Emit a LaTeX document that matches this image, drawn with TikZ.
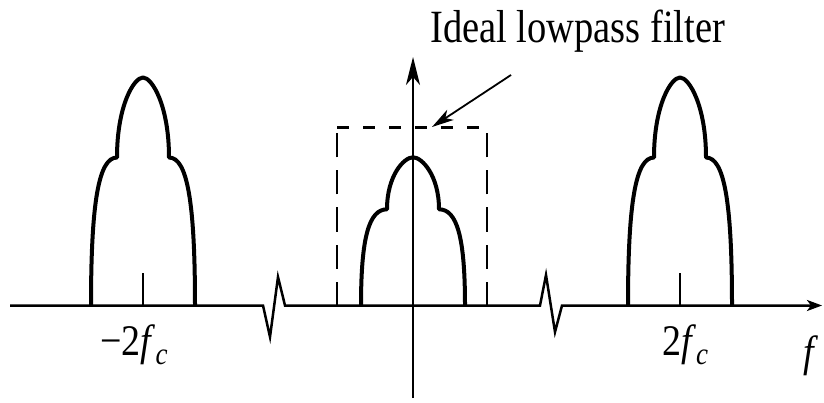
\documentclass[tikz,border=0pt]{standalone}
\usepackage{fontspec}
\setmainfont{Liberation Serif}
\usetikzlibrary{arrows.meta}
\newcommand\pulsepath{(-52,0) .. controls (-52,105) and (-44,148) .. (-26,148) .. controls (-26,200) and (-9,228) .. (0,228) .. controls (9,228) and (26,200) .. (26,148) .. controls (44,148) and (52,105) .. (52,0)}
\tikzset{
  pulse/.style={line width=4pt, line join=round},
  axisline/.style={line width=2.5pt, line join=miter},
  tickline/.style={line width=1.5pt},
  boxtop/.style={line width=3pt, dash pattern=on 12pt off 14pt},
  boxside/.style={line width=1.6pt, dash pattern=on 24pt off 13pt},
  lbl/.style={inner sep=0pt, anchor=base west},
}
\begin{document}
\begin{tikzpicture}[x=1pt,y=1pt]
\useasboundingbox (0,0) rectangle (824,402);
% axis coordinates
\coordinate (hstart) at (10,96.5);
\coordinate (z1a) at (263,96.5);
\coordinate (z1b) at (270,65);
\coordinate (z1c) at (278,125);
\coordinate (z1d) at (285,96.5);
\coordinate (z2a) at (540,96.5);
\coordinate (z2b) at (546,127);
\coordinate (z2c) at (555,70);
\coordinate (z2d) at (562,96.5);
\coordinate (hend) at (822,96.5);
\coordinate (vstart) at (413,4);
\coordinate (vend) at (413,345);
% horizontal axis with breaks
\draw[axisline, -{Stealth[length=15pt,width=11pt,inset=4pt]}] (hstart) -- (z1a) -- (z1b) -- (z1c) -- (z1d) -- (z2a) -- (z2b) -- (z2c) -- (z2d) -- (hend);
% vertical axis
\draw[line width=2pt, -{Stealth[length=28pt,width=14pt,inset=8pt]}] (vstart) -- (vend);
% pulses
\draw[pulse, shift={(143,96.5)}] \pulsepath;
\draw[pulse, shift={(680,96.5)}] \pulsepath;
\draw[pulse, shift={(413,96.5)}, yscale=0.65] \pulsepath;
% center ticks
\coordinate (t1a) at (143,96.5); \coordinate (t1b) at (143,129);
\coordinate (t2a) at (680,96.5); \coordinate (t2b) at (680,129);
\draw[tickline] (t1a) -- (t1b);
\draw[tickline] (t2a) -- (t2b);
% ideal lowpass filter box
\coordinate (bl) at (337,96.5);
\coordinate (tl) at (337,274);
\coordinate (tr) at (487,274);
\coordinate (br) at (487,96.5);
\draw[boxside] (bl) -- (tl);
\draw[boxside] (br) -- (tr);
\draw[boxtop] (tl) -- (tr);
% annotation
\node[lbl] (title) at (430,359) {\scalebox{1}[1.2]{\fontsize{38.5}{40}\selectfont Ideal lowpass filter}};
\coordinate (astart) at (511,327);
\coordinate (aend) at (432,275);
\draw[line width=1.8pt, -{Stealth[length=22pt,width=12pt,inset=6pt]}] (astart) -- (aend);
% labels
\node[lbl] (lneg) at (100,47) {\scalebox{1}[1.15]{\fontsize{38}{40}\selectfont −2\textit{f}\raisebox{-0.22em}{\fontsize{27}{28}\selectfont\textit{c}}}};
\node[lbl] (lpos) at (662,47) {\scalebox{1}[1.15]{\fontsize{38}{40}\selectfont 2\textit{f}\raisebox{-0.22em}{\fontsize{27}{28}\selectfont\textit{c}}}};
\node[lbl] (lf) at (803,36) {\scalebox{1}[1.15]{\fontsize{38}{40}\selectfont\textit{f}}};
\end{tikzpicture}
\end{document}
